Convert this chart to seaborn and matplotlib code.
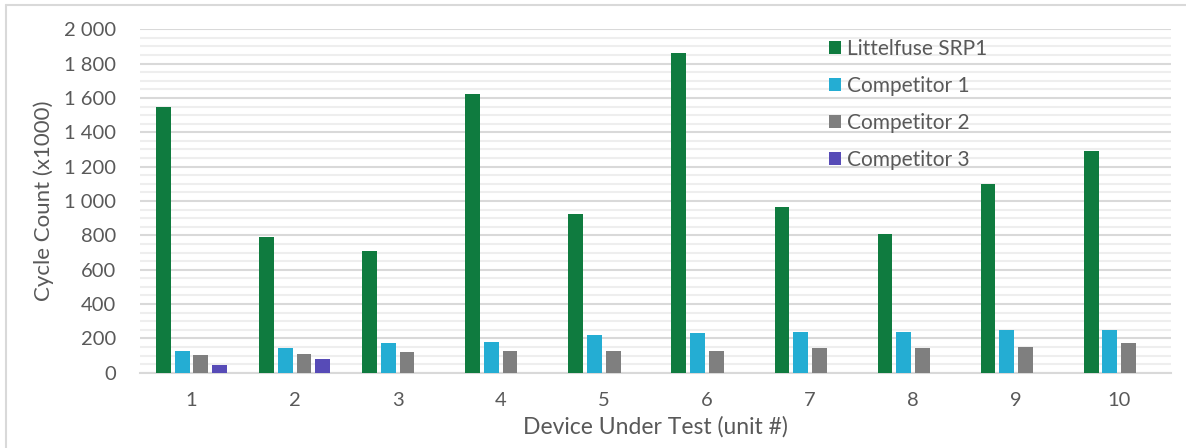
import numpy as np
import pandas as pd
import matplotlib
matplotlib.use("Agg")
import matplotlib.pyplot as plt
import seaborn as sns

units = ["1", "2", "3", "4", "5", "6", "7", "8", "9", "10"]
littelfuse = [1550, 789, 711, 1621, 926, 1860, 963, 810, 1099, 1293]
competitor1 = [128, 142, 171, 179, 221, 229, 237, 237, 250, 250]
competitor2 = [101, 107, 122, 128, 128, 128, 142, 142, 150, 173]
competitor3 = [43, 78, np.nan, np.nan, np.nan, np.nan, np.nan, np.nan, np.nan, np.nan]
series_names = ["Littelfuse SRP1", "Competitor 1", "Competitor 2", "Competitor 3"]
series_colors = ["#0F7B3F", "#24ADD3", "#7F7F7F", "#574BB7"]
y_ticks = [0, 200, 400, 600, 800, 1000, 1200, 1400, 1600, 1800, 2000]
y_ticklabels = ["0", "200", "400", "600", "800", "1 000", "1 200", "1 400", "1 600", "1 800", "2 000"]

rows = []
for name, vals in zip(series_names, [littelfuse, competitor1, competitor2, competitor3]):
    for u, v in zip(units, vals):
        rows.append({"unit": u, "series": name, "value": v})
df = pd.DataFrame(rows).dropna()

sns.set_theme(style="white")
plt.rcParams["font.family"] = ["Lato", "DejaVu Sans"]
text_color = "#595959"

W, H = 1186, 448
fig = plt.figure(figsize=(W / 100, H / 100), dpi=100)
ax = fig.add_axes([140 / W, (H - 372.7) / H, (1170.7 - 140) / W, (372.7 - 29.3) / H])

sns.barplot(data=df, x="unit", y="value", hue="series", order=units,
            hue_order=series_names, palette=series_colors, width=0.725, gap=0.21,
            errorbar=None, saturation=1, ax=ax, zorder=3, linewidth=0)

ax.set_xlim(-0.5, 9.5)
ax.set_ylim(0, 2000)
ax.set_yticks(y_ticks)
ax.set_yticklabels(y_ticklabels)
ax.set_yticks(np.arange(0, 2001, 50), minor=True)
ax.grid(axis="y", which="major", color="#D9D9D9", linewidth=1.5, zorder=0)
ax.grid(axis="y", which="minor", color="#EEEEEE", linewidth=1.5, zorder=0)
ax.set_axisbelow(True)
for s in ["top", "right", "left"]:
    ax.spines[s].set_visible(False)
ax.spines["bottom"].set_color("#D9D9D9")
ax.spines["bottom"].set_linewidth(1.5)
ax.tick_params(axis="both", which="both", length=0, labelsize=14.5, colors=text_color)
ax.tick_params(axis="y", pad=17)
ax.tick_params(axis="x", pad=14)
ax.set_xlabel("Device Under Test (unit #)", fontsize=16.5, color=text_color)
ax.set_ylabel("Cycle Count (x1000)", fontsize=16, color=text_color)
ax.xaxis.set_label_coords(0.5, -0.127)
ax.yaxis.set_label_coords(-0.0834, 0.5)

handles, labels = ax.get_legend_handles_labels()
leg = ax.legend(handles, labels, loc="upper left", bbox_to_anchor=(829 / W, 1 - 39 / H),
                bbox_transform=fig.transFigure, frameon=False, fontsize=15,
                handlelength=0.58, handleheight=0.58, handletextpad=0.27,
                labelspacing=0.82, borderaxespad=0, borderpad=0)
for t in leg.get_texts():
    t.set_color(text_color)

# outer chart border (left and top)
fig.add_artist(plt.Line2D([6 / W, 6 / W], [0, 1 - 5 / H], transform=fig.transFigure,
                          color="#D9D9D9", linewidth=1.5))
fig.add_artist(plt.Line2D([6 / W, 1], [1 - 5 / H, 1 - 5 / H], transform=fig.transFigure,
                          color="#D9D9D9", linewidth=1.5))

fig.savefig("out.png", dpi=100)
